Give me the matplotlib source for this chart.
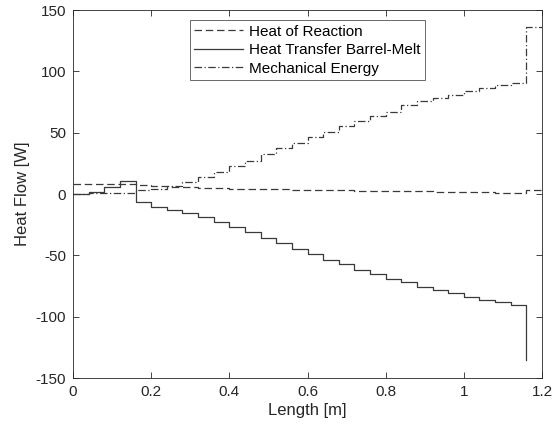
import matplotlib
matplotlib.use("Agg")
import matplotlib.pyplot as plt
import numpy as np

# Bin edges (m) for the stepwise profiles
length_edges = [round(0.04 * i, 2) for i in range(31)]  # 0 ... 1.2

heat_of_reaction = [8.0, 8.0, 8.3, 8.5, 7.0, 6.5, 6.0, 5.5, 5.0, 4.7,
                    4.4, 4.1, 3.9, 3.7, 3.5, 3.3, 3.1, 2.9, 2.7, 2.6,
                    2.4, 2.2, 2.1, 1.9, 1.7, 1.5, 1.3, 1.1, 0.9, 3.0]

heat_transfer = [0.0, 1.3, 5.9, 10.2, -6.8, -10.8, -13.0, -15.4, -18.9, -23.0,
                 -26.5, -31.0, -35.7, -40.0, -44.6, -49.2, -53.5, -57.3, -61.6, -65.0,
                 -68.9, -72.1, -75.7, -78.4, -81.0, -84.3, -86.5, -88.3, -90.8, -135.5]

mechanical = [0.0, 0.5, 0.5, 1.0, 3.0, 4.0, 6.2, 10.0, 13.5, 18.0,
              22.7, 27.0, 32.4, 37.3, 41.6, 46.4, 50.7, 55.3, 59.4, 63.4,
              67.0, 72.9, 75.6, 78.3, 80.5, 84.3, 86.4, 88.6, 90.4, 136.5]

labels = ["Heat of Reaction", "Heat Transfer Barrel-Melt", "Mechanical Energy"]

plt.rcParams['font.family'] = ['Liberation Sans', 'DejaVu Sans']
plt.rcParams['axes.unicode_minus'] = False

fig = plt.figure(figsize=(5.55, 4.32), dpi=100)
ax = fig.add_axes([73 / 555, 1 - 378 / 432, (542 - 73) / 555, (378 - 10) / 432])

col = '#3a3a3a'
x = np.array(length_edges)
# steps-post: value i holds on [x_i, x_{i+1}]
hr = np.append(heat_of_reaction, heat_of_reaction[-1])
me = np.append(mechanical, mechanical[-1])
ax.plot(x, hr, drawstyle='steps-post', ls=(0, (6, 3)), color=col, lw=0.9, label=labels[0])
ax.plot(x[:-1], heat_transfer, drawstyle='steps-post', ls='-', color=col, lw=0.9, label=labels[1])
ax.plot(x, me, drawstyle='steps-post', ls=(0, (6, 2, 1, 2)), color=col, lw=0.9, label=labels[2])

ax.set_xlim(0, 1.2)
ax.set_ylim(-150, 150)
ax.set_xticks([0, 0.2, 0.4, 0.6, 0.8, 1.0, 1.2])
ax.set_xticklabels(['0', '0.2', '0.4', '0.6', '0.8', '1', '1.2'])
ax.set_yticks([-150, -100, -50, 0, 50, 100, 150])
ax.tick_params(direction='in', top=True, right=True, length=4, width=0.6,
               labelsize=11, colors='#262626', pad=5)
for s in ax.spines.values():
    s.set_color('#262626')
    s.set_linewidth(0.6)

ax.set_xlabel('Length [m]', fontsize=12, color='#262626', labelpad=3)
ax.set_ylabel('Heat Flow [W]', fontsize=12, color='#262626', labelpad=4)

leg = ax.legend(loc='upper center', bbox_to_anchor=(0.5, 0.973), fontsize=11,
                frameon=True, fancybox=False, edgecolor='#262626', handlelength=3.2,
                borderpad=0.3, labelspacing=0.3, handletextpad=0.4, borderaxespad=0)
leg.get_frame().set_linewidth(0.6)

fig.savefig('out.png', dpi=100)
